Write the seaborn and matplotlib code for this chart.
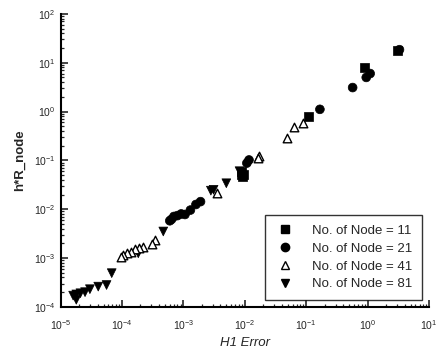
import numpy as np
import pandas as pd
import matplotlib
matplotlib.use("Agg")
import matplotlib.pyplot as plt
import seaborn as sns
from matplotlib.lines import Line2D

# Node = 11 (squares)
n11_x = [3.1, 0.88, 0.108, 0.0089, 0.0093, 0.0097, 0.0087]
n11_y = [17.5, 8.1, 0.79, 0.059, 0.046, 0.052, 0.050]
# Node = 21 (circles)
n21_x = [3.3, 0.95, 1.1, 0.57, 0.167, 0.0117, 0.0108, 0.0013, 0.00106,
         0.00092, 0.00080, 0.00070, 0.00064, 0.00060, 0.0016, 0.0019]
n21_y = [18.5, 5.0, 6.0, 3.1, 1.11, 0.102, 0.088, 0.0096, 0.0078,
         0.0080, 0.0074, 0.0071, 0.0062, 0.0058, 0.0125, 0.0143]
# Node = 41 (open triangles)
n41_x = [0.089, 0.063, 0.048, 0.0172, 0.0165, 0.0035, 0.00034, 0.00031,
         0.00022, 0.00019, 0.00016, 0.00014, 0.000119, 0.000105, 0.000098]
n41_y = [0.575, 0.48, 0.284, 0.123, 0.11, 0.0215, 0.0023, 0.0019,
         0.0017, 0.0016, 0.0015, 0.0013, 0.00125, 0.00115, 0.00107]
# Node = 81 (down triangles)
n81_x = [0.0082, 0.005, 0.0031, 0.0028, 0.00047, 0.000184, 6.8e-5, 5.6e-5,
         4.1e-5, 3.0e-5, 2.5e-5, 2.1e-5, 1.8e-5, 1.6e-5, 1.8e-5]
n81_y = [0.060, 0.034, 0.025, 0.024, 0.0035, 0.00125, 0.00049, 0.00028,
         0.00026, 0.00023, 0.00020, 0.00019, 0.00018, 0.00017, 0.00014]

labels = ["No. of Node = 11", "No. of Node = 21", "No. of Node = 41", "No. of Node = 81"]

frames = []
for lab, xs, ys in zip(labels, [n11_x, n21_x, n41_x, n81_x], [n11_y, n21_y, n41_y, n81_y]):
    frames.append(pd.DataFrame({"H1 Error": xs, "h*R_node": ys, "Node": lab}))
df = pd.concat(frames, ignore_index=True)

sns.set_style("ticks")
plt.rcParams['font.family'] = ['Liberation Sans', 'DejaVu Sans']

fig = plt.figure(figsize=(4.36, 3.56), dpi=100)
ax = fig.add_axes([0.139, 0.138, 0.845, 0.823])

markers = {labels[0]: "s", labels[1]: "o", labels[2]: "^", labels[3]: "v"}
solid = df[df["Node"] != labels[2]]
sns.scatterplot(data=solid, x="H1 Error", y="h*R_node", style="Node", markers=markers,
                style_order=[labels[0], labels[1], labels[3]],
                color="black", edgecolor="black", s=40, linewidth=0.5, ax=ax, legend=False)
open_df = df[df["Node"] == labels[2]]
sns.scatterplot(data=open_df, x="H1 Error", y="h*R_node", marker="^",
                facecolor="white", edgecolor="black", s=38, linewidth=1.0, ax=ax, legend=False)

ax.set_xscale("log")
ax.set_yscale("log")
ax.set_xlim(1e-5, 10)
ax.set_ylim(1e-4, 100)

ax.set_xlabel("H1 Error", fontsize=9.5, style="italic", labelpad=4)
ax.set_ylabel("h*R_node", fontsize=9.5, fontweight="bold", labelpad=6)

ax.tick_params(axis="both", which="major", direction="in", length=5, width=1.2, labelsize=7.5)
ax.tick_params(axis="x", which="major", pad=8)
ax.tick_params(axis="both", which="minor", direction="in", length=2.5, width=0.9)
ax.xaxis.set_major_locator(matplotlib.ticker.LogLocator(base=10, numticks=10))
ax.yaxis.set_major_locator(matplotlib.ticker.LogLocator(base=10, numticks=10))
for side in ["left", "bottom"]:
    ax.spines[side].set_linewidth(1.5)
    ax.spines[side].set_color("black")
sns.despine(ax=ax)

handles = [
    Line2D([], [], marker="s", color="black", linestyle="none", markersize=6),
    Line2D([], [], marker="o", color="black", linestyle="none", markersize=6),
    Line2D([], [], marker="^", markerfacecolor="white", markeredgecolor="black", linestyle="none", markersize=6),
    Line2D([], [], marker="v", color="black", linestyle="none", markersize=6),
]
leg = ax.legend(handles, labels, loc="lower right", bbox_to_anchor=(1.0, 0.0),
                fontsize=9.5, frameon=True, fancybox=False, edgecolor="black",
                handletextpad=1.3, borderpad=0.75, labelspacing=0.42, handlelength=1.5)
leg.get_frame().set_linewidth(1.0)

fig.savefig("out.png", dpi=100)
